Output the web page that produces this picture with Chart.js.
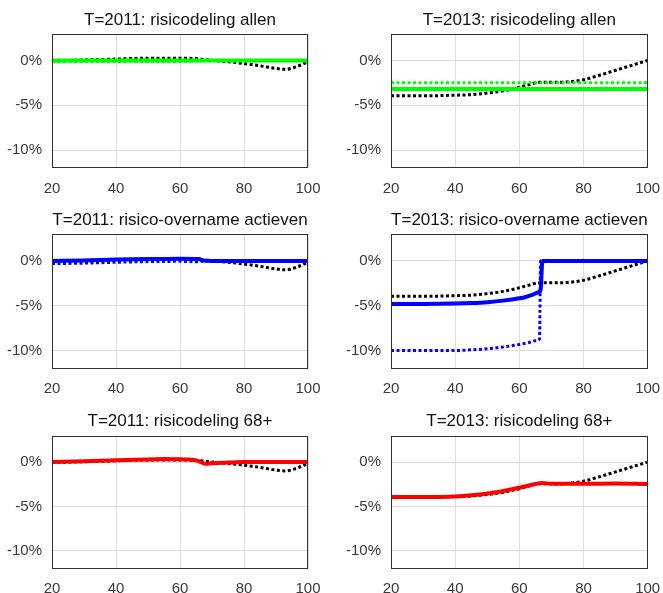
<!DOCTYPE html>
<html><head><meta charset="utf-8">
<script src="https://cdn.jsdelivr.net/npm/chart.js@4/dist/chart.umd.min.js"></script>
<style>
html,body{margin:0;padding:0;background:#fff;}
#wrap{position:relative;width:663px;height:593px;overflow:hidden;background:#fff;}
canvas{position:absolute;}
</style></head><body><div id="wrap"></div>
<script>
// ---------- data ----------
const panelTitles = [
  "T=2011: risicodeling allen", "T=2013: risicodeling allen",
  "T=2011: risico-overname actieven", "T=2013: risico-overname actieven",
  "T=2011: risicodeling 68+", "T=2013: risicodeling 68+"
];
const xTickValues = [20, 40, 60, 80, 100];
const yTickValues = [-10, -5, 0];

// reference (black dotted) 2011
const ref2011Age = [20, 30, 40, 50, 60, 65, 70, 75, 80, 85, 90, 93, 96, 100];
const ref2011Val = [-0.05, 0.05, 0.15, 0.25, 0.25, 0.2, 0.0, -0.15, -0.35, -0.6, -0.9, -1.0, -0.75, -0.15];
// reference (black dotted) 2013
const ref2013Age = [20, 30, 40, 45, 50, 55, 60, 63, 66, 70, 75, 80, 85, 90, 95, 100];
const ref2013Val = [-3.95, -3.95, -3.88, -3.82, -3.65, -3.4, -3.0, -2.7, -2.45, -2.45, -2.4, -2.15, -1.65, -1.1, -0.55, 0];

// risicodeling allen
const allen2011SolidAge = [20, 100];
const allen2011SolidVal = [0, 0];
const allen2011DotAge = [20, 40, 60, 70, 100];
const allen2011DotVal = [-0.15, -0.12, -0.12, 0, 0];
const allen2013SolidAge = [20, 100];
const allen2013SolidVal = [-3.2, -3.2];
const allen2013DotAge = [20, 100];
const allen2013DotVal = [-2.5, -2.5];

// risico-overname actieven
const act2011SolidAge = [20, 30, 40, 50, 60, 66, 67, 70, 100];
const act2011SolidVal = [0, 0.05, 0.15, 0.2, 0.25, 0.2, 0.05, 0, 0];
const act2011DotAge = [20, 30, 40, 50, 60, 66, 67, 100];
const act2011DotVal = [-0.3, -0.25, -0.15, -0.08, -0.05, -0.1, 0, 0];
const act2013SolidAge = [20, 30, 40, 45, 50, 55, 60, 62, 64, 66, 66.6, 67.2, 100];
const act2013SolidVal = [-4.8, -4.8, -4.76, -4.7, -4.6, -4.43, -4.17, -4.02, -3.8, -3.5, -3.3, 0, 0];
const act2013DotAge = [20, 30, 40, 45, 50, 55, 60, 63, 65, 66.3, 66.6, 100];
const act2013DotVal = [-10, -10, -10, -9.92, -9.8, -9.6, -9.32, -9.1, -8.9, -8.7, 0, 0];

// risicodeling 68+
const old2011Age = [20, 30, 40, 50, 55, 60, 63, 65, 66.5, 68, 70, 75, 80, 100];
const old2011Val = [0, 0.1, 0.2, 0.3, 0.35, 0.33, 0.28, 0.2, 0.0, -0.2, -0.12, -0.05, 0, 0];
const old2013Age = [20, 30, 40, 45, 50, 55, 60, 63, 65, 67, 70, 80, 90, 100];
const old2013Val = [-3.95, -3.95, -3.88, -3.75, -3.55, -3.25, -2.9, -2.62, -2.47, -2.35, -2.45, -2.45, -2.42, -2.48];

// ---------- styles ----------
const GREEN = "#00ff00", BLUE = "#0000ff", RED = "#ff0000", BLACK = "#000000";
const panelSeries = [
  [[allen2011SolidAge, allen2011SolidVal, GREEN, false], [allen2011DotAge, allen2011DotVal, GREEN, true], [ref2011Age, ref2011Val, BLACK, true]],
  [[allen2013SolidAge, allen2013SolidVal, GREEN, false], [allen2013DotAge, allen2013DotVal, GREEN, true], [ref2013Age, ref2013Val, BLACK, true]],
  [[act2011SolidAge, act2011SolidVal, BLUE, false], [act2011DotAge, act2011DotVal, BLUE, true], [ref2011Age, ref2011Val, BLACK, true]],
  [[act2013SolidAge, act2013SolidVal, BLUE, false], [act2013DotAge, act2013DotVal, BLUE, true], [ref2013Age, ref2013Val, BLACK, true]],
  [[old2011Age, old2011Val, RED, false], [ref2011Age, ref2011Val, BLACK, true]],
  [[old2013Age, old2013Val, RED, false], [ref2013Age, ref2013Val, BLACK, true]]
];

const FONT = "'Liberation Sans', Arial, Helvetica, sans-serif";
const cols = [
  {left: 0, width: 330, yAxisW: 52, padRight: 22},
  {left: 330, width: 333, yAxisW: 61, padRight: 15.3}
];
const rows = [
  {top: 0, height: 200, chartTop: 33.5, chartH: 134.5, titleC: 20},
  {top: 200, height: 200, chartTop: 34, chartH: 134.5, titleC: 20.5},
  {top: 400, height: 193, chartTop: 35.5, chartH: 133, titleC: 21}
];

const boxPlugin = {
  id: 'box',
  afterDraw(chart) {
    const a = chart.chartArea, ctx = chart.ctx;
    ctx.save();
    ctx.strokeStyle = '#303030';
    ctx.lineWidth = 1;
    const l = Math.round(a.left) + 0.5, t = Math.round(a.top) + 0.5;
    const r = Math.round(a.right) - 0.5, b = Math.round(a.bottom) - 0.5;
    ctx.strokeRect(l, t, r - l, b - t);
    ctx.restore();
  }
};

const wrap = document.getElementById('wrap');
for (let p = 0; p < 6; p++) {
  const col = cols[p % 2], row = rows[Math.floor(p / 2)];
  const cv = document.createElement('canvas');
  cv.width = col.width; cv.height = row.height;
  cv.style.left = col.left + 'px'; cv.style.top = row.top + 'px';
  cv.style.width = col.width + 'px'; cv.style.height = row.height + 'px';
  wrap.appendChild(cv);
  const titleSize = 17, titleLine = titleSize * 1.2;
  const tPadTop = row.titleC - titleLine / 2;
  const tPadBot = row.chartTop - tPadTop - titleLine;
  const xAxisH = row.height - row.chartTop - row.chartH;
  const datasets = panelSeries[p].map(([xs, ys, color, dotted]) => ({
    data: xs.map((x, i) => ({x: x, y: ys[i]})),
    borderColor: color,
    backgroundColor: color,
    borderWidth: dotted ? 3 : 4,
    borderDash: dotted ? [3, 2.5] : [],
    borderCapStyle: 'butt',
    pointRadius: 0,
    fill: false,
    cubicInterpolationMode: 'monotone'
  }));
  new Chart(cv, {
    type: 'line',
    data: {datasets},
    options: {
      responsive: false,
      animation: false,
      devicePixelRatio: 1,
      layout: {padding: {left: 0, right: col.padRight, top: 0, bottom: 0}},
      plugins: {
        legend: {display: false},
        tooltip: {enabled: false},
        title: {
          display: true, text: panelTitles[p], color: '#111',
          fullSize: false,
          font: {family: FONT, size: titleSize, weight: 'normal', lineHeight: 1.2},
          padding: {top: tPadTop, bottom: tPadBot}
        }
      },
      scales: {
        x: {
          type: 'linear', min: 20, max: 100,
          afterFit(s) { s.height = xAxisH; },
          afterBuildTicks(s) { s.ticks = xTickValues.map(v => ({value: v})); },
          grid: {color: '#dedede', drawTicks: false, lineWidth: 1},
          border: {display: false},
          ticks: {color: '#3a3a3a', padding: 2, maxRotation: 0,
                  font: {family: FONT, size: 15, lineHeight: 2.5}}
        },
        y: {
          type: 'linear', min: -12, max: 3,
          afterFit(s) { s.width = col.yAxisW; },
          afterBuildTicks(s) { s.ticks = yTickValues.map(v => ({value: v})); },
          grid: {color: '#dedede', drawTicks: false, lineWidth: 1},
          border: {display: false},
          ticks: {color: '#3a3a3a', padding: 10, font: {family: FONT, size: 15},
                  callback: v => v + '%'}
        }
      }
    },
    plugins: [boxPlugin]
  });
}
</script>
</body></html>
